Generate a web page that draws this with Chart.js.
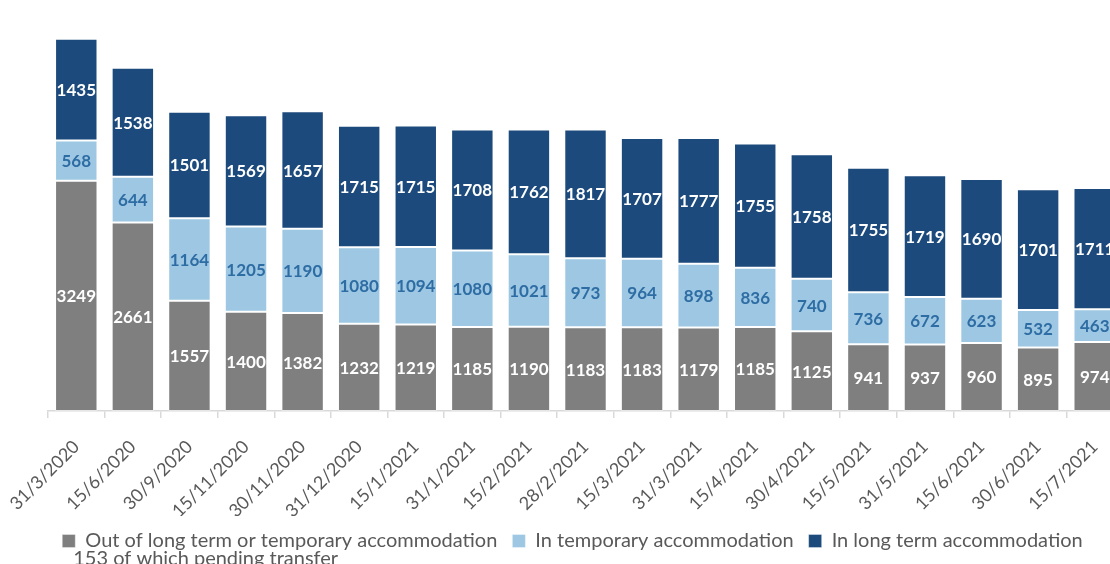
<!DOCTYPE html>
<html><head><meta charset="utf-8">
<script src="https://cdn.jsdelivr.net/npm/chart.js@4.4.0/dist/chart.umd.min.js"></script>
<style>html,body{margin:0;padding:0;overflow:hidden;background:#fff;width:1110px;height:564px}
#wrap{position:relative;width:1126px;height:569px}</style></head>
<body><div id="wrap"><canvas id="c" width="1126" height="569"></canvas></div>
<script>
const categories = ['31/3/2020','15/6/2020','30/9/2020','15/11/2020','30/11/2020','31/12/2020','15/1/2021','31/1/2021','15/2/2021','28/2/2021','15/3/2021','31/3/2021','15/4/2021','30/4/2021','15/5/2021','31/5/2021','15/6/2021','30/6/2021','15/7/2021'];
const outOfAccommodation = [3249,2661,1557,1400,1382,1232,1219,1185,1190,1183,1183,1179,1185,1125,941,937,960,895,974];
const temporaryAccommodation = [568,644,1164,1205,1190,1080,1094,1080,1021,973,964,898,836,740,736,672,623,532,463];
const longTermAccommodation = [1435,1538,1501,1569,1657,1715,1715,1708,1762,1817,1707,1777,1755,1758,1755,1719,1690,1701,1711];
const seriesNames = ['Out of long term or temporary accommodation','In temporary accommodation','In long term accommodation'];
const footnote = '153 of which pending transfer';

const CANVAS_H = 569;
const PAD_B = 8;
const AXIS_Y = 411;

const segmentLabels = {
  id: 'segmentLabels',
  afterDatasetsDraw(chart) {
    const ctx = chart.ctx;
    chart.data.datasets.forEach((ds, i) => {
      const meta = chart.getDatasetMeta(i);
      meta.data.forEach((bar, j) => {
        const p = bar.getProps(['x', 'y', 'base'], true);
        ctx.save();
        ctx.font = 'bold 17px Lato';
        ctx.fillStyle = ds.labelColor;
        ctx.textAlign = 'center';
        ctx.textBaseline = 'middle';
        ctx.fillText(String(ds.data[j]), p.x, (p.y + p.base) / 2 + 1);
        ctx.restore();
      });
    });
  }
};

const legendShift = {
  id: 'legendShift',
  afterLayout(chart) {
    if (chart.legend) { chart.legend.left -= 13; chart.legend.right -= 13; }
  }
};

const footnotePlugin = {
  id: 'footnotePlugin',
  afterDraw(chart) {
    const boxes = chart.legend && chart.legend.legendHitBoxes;
    if (!boxes || !boxes.length) return;
    const b = boxes[0];
    const ctx = chart.ctx;
    ctx.save();
    ctx.font = '20px Lato';
    ctx.fillStyle = '#595959';
    ctx.textBaseline = 'middle';
    ctx.fillText(footnote, b.left + 11, b.top + b.height / 2 + 18);
    ctx.restore();
  }
};

const makeDs = (label, data, color, labelColor) => ({
  label, data, backgroundColor: color, labelColor,
  borderColor: 'rgba(255,255,255,0.35)', borderWidth: 1, borderSkipped: false,
  barPercentage: 0.75, categoryPercentage: 1
});

new Chart(document.getElementById('c'), {
  type: 'bar',
  data: {
    labels: categories,
    datasets: [
      makeDs(seriesNames[0], outOfAccommodation, '#7f7f7f', '#ffffff'),
      makeDs(seriesNames[1], temporaryAccommodation, '#9dc7e2', '#2e6da4'),
      makeDs(seriesNames[2], longTermAccommodation, '#1c4a7c', '#ffffff')
    ]
  },
  options: {
    responsive: false,
    animation: false,
    devicePixelRatio: 1,
    layout: { padding: { left: 48, right: 3, top: 0, bottom: PAD_B } },
    scales: {
      x: {
        stacked: true,
        offset: true,
        afterFit(scale) {
          const lg = scale.chart.legend;
          scale.height = CANVAS_H - PAD_B - AXIS_Y - (lg ? lg.height : 0);
          scale.paddingLeft = 0;
          scale.paddingRight = 0;
        },
        grid: { display: true, drawOnChartArea: false, drawTicks: true, tickLength: 7, color: '#d9d9d9', lineWidth: 1.5 },
        border: { display: true, color: '#d9d9d9', width: 1.5 },
        ticks: { maxRotation: 45, minRotation: 45, autoSkip: false, color: '#595959', font: { family: 'Lato', size: 18 }, padding: 18 }
      },
      y: { stacked: true, display: false, min: 0, max: 5800 }
    },
    plugins: {
      legend: {
        position: 'bottom',
        labels: { color: '#595959', font: { family: 'Lato', size: 20 }, boxWidth: 13, boxHeight: 13, padding: 15 }
      },
      tooltip: { enabled: false }
    }
  },
  plugins: [segmentLabels, legendShift, footnotePlugin]
});
</script></body></html>
